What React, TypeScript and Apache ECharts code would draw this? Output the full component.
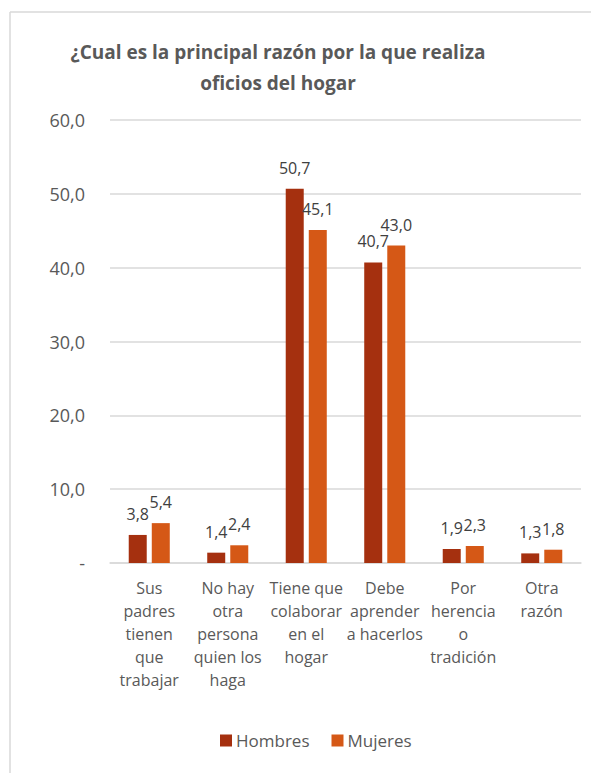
import React, { useEffect, useRef } from "react";
import * as echarts from "echarts";

const categories = [
  "Sus\npadres\ntienen\nque\ntrabajar",
  "No hay\notra\npersona\nquien los\nhaga",
  "Tiene que\ncolaborar\nen el\nhogar",
  "Debe\naprender\na hacerlos",
  "Por\nherencia\no\ntradición",
  "Otra\nrazón",
];
const hombres = [3.8, 1.4, 50.7, 40.7, 1.9, 1.3];
const mujeres = [5.4, 2.4, 45.1, 43.0, 2.3, 1.8];
const seriesNames = ["Hombres", "Mujeres"];
const titleText = "¿Cual es la principal razón por la que realiza\noficios del hogar";

const FONT = "Open Sans";
const fmt = (v: number) => (v === 0 ? "-" : v.toFixed(1).replace(".", ","));

export default function App() {
  const ref = useRef<HTMLDivElement>(null);
  useEffect(() => {
    document.body.style.margin = "0";
    const chart = echarts.init(ref.current!, undefined, { renderer: "svg" });
    const labelCfg = {
      show: true,
      position: "top" as const,
      distance: 13,
      color: "#404040",
      fontFamily: FONT,
      fontSize: 16,
      formatter: (p: any) => fmt(p.value),
    };
    chart.setOption({
      animation: false,
      backgroundColor: "#ffffff",
      textStyle: { fontFamily: FONT },
      grid: { left: 110, right: 10, top: 120, bottom: 210, containLabel: false },
      legend: {
        data: seriesNames,
        bottom: 19,
        left: 215,
        itemWidth: 12,
        itemHeight: 12,
        itemGap: 22,
        icon: "rect",
        textStyle: { fontFamily: FONT, fontSize: 17, color: "#595959", padding: [0, 0, 0, -1] },
      },
      xAxis: {
        type: "category",
        data: categories,
        axisLine: { lineStyle: { color: "#d9d9d9", width: 1.5 } },
        axisTick: { show: false },
        axisLabel: {
          interval: 0,
          color: "#595959",
          fontFamily: FONT,
          fontSize: 16,
          lineHeight: 23,
          margin: 13,
          verticalAlign: "top",
        },
      },
      yAxis: {
        type: "value",
        min: 0,
        max: 60,
        interval: 10,
        axisLine: { show: false },
        axisTick: { show: false },
        splitLine: { lineStyle: { color: "#d9d9d9", width: 1.5 } },
        axisLabel: {
          color: "#595959",
          fontFamily: FONT,
          fontSize: 18,
          margin: 25,
          formatter: (v: number) => fmt(v),
        },
      },
      series: [
        {
          name: seriesNames[0],
          type: "bar",
          data: hombres,
          barWidth: 18,
          barGap: "28%",
          itemStyle: { color: "#A5300F" },
          label: labelCfg,
        },
        {
          name: seriesNames[1],
          type: "bar",
          data: mujeres,
          barWidth: 18,
          itemStyle: { color: "#D55816" },
          label: labelCfg,
        },
      ],
      graphic: [
        { type: "line", shape: { x1: 10, y1: 12, x2: 591, y2: 12 }, style: { stroke: "#d9d9d9", lineWidth: 1.5 } },
        { type: "line", shape: { x1: 10, y1: 12, x2: 10, y2: 773 }, style: { stroke: "#d9d9d9", lineWidth: 1.5 } },
        {
          type: "text",
          x: 278,
          y: 36,
          style: {
            text: titleText,
            textAlign: "center",
            textVerticalAlign: "top",
            fontFamily: FONT,
            fontSize: 19,
            fontWeight: "bold",
            fill: "#595959",
            lineHeight: 31,
          },
        },
      ],
    });
    return () => chart.dispose();
  }, []);
  return <div ref={ref} style={{ position: "absolute", left: 0, top: 0, width: 591, height: 773 }} />;
}
